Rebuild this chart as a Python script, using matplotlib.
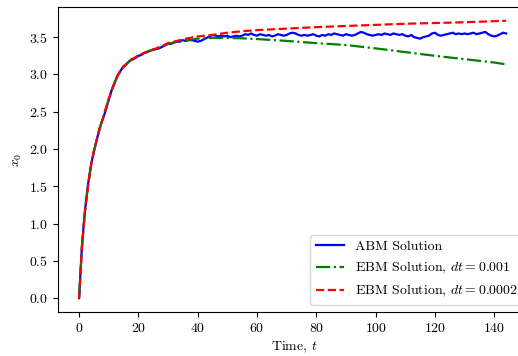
import matplotlib
matplotlib.use("Agg")
import matplotlib.pyplot as plt
import numpy as np

plt.rcParams['font.family'] = 'cmr10'
plt.rcParams['mathtext.fontset'] = 'cm'
plt.rcParams['axes.formatter.use_mathtext'] = True
plt.rcParams['font.size'] = 10

# ABM solution, one value per time unit
t_abm = np.arange(0, 145)
x_abm = [
    0.0, 0.72, 1.18, 1.52, 1.78, 1.97, 2.13, 2.29, 2.40, 2.52,
    2.66, 2.79, 2.89, 2.99, 3.05, 3.11, 3.14, 3.18, 3.20, 3.22,
    3.25, 3.26, 3.29, 3.30, 3.32, 3.33, 3.34, 3.35, 3.37, 3.39,
    3.41, 3.41, 3.43, 3.44, 3.44, 3.46, 3.45, 3.46, 3.46, 3.45,
    3.44, 3.45, 3.47, 3.49, 3.51, 3.53, 3.52, 3.51, 3.52, 3.51,
    3.52, 3.50, 3.51, 3.52, 3.51, 3.52, 3.54, 3.53, 3.55, 3.53,
    3.52, 3.54, 3.53, 3.52, 3.53, 3.51, 3.52, 3.54, 3.53, 3.52,
    3.53, 3.55, 3.56, 3.55, 3.53, 3.52, 3.53, 3.52, 3.53, 3.54,
    3.52, 3.51, 3.53, 3.52, 3.54, 3.53, 3.55, 3.54, 3.53, 3.52,
    3.54, 3.53, 3.52, 3.53, 3.55, 3.57, 3.56, 3.54, 3.53, 3.52,
    3.53, 3.54, 3.53, 3.55, 3.54, 3.53, 3.55, 3.54, 3.53, 3.54,
    3.52, 3.51, 3.53, 3.50, 3.49, 3.48, 3.50, 3.51, 3.52, 3.55,
    3.56, 3.53, 3.52, 3.53, 3.54, 3.55, 3.56, 3.54, 3.55, 3.54,
    3.55, 3.54, 3.55, 3.56, 3.54, 3.55, 3.56, 3.57, 3.54, 3.52,
    3.51, 3.52, 3.54, 3.56, 3.55,
]

# EBM solutions
t_ebm = [0, 1, 2, 3, 4, 5, 6, 7, 8, 9, 10, 11, 12, 13, 14, 15, 16, 17, 18, 19,
         20, 22, 24, 26, 28, 30, 33, 36, 40, 45, 50, 55, 60, 70, 80, 90,
         100, 110, 120, 130, 140, 144]
x_dt1 = [0.0, 0.70, 1.17, 1.50, 1.77, 1.97, 2.13, 2.28, 2.41, 2.54,
         2.67, 2.79, 2.89, 2.98, 3.05, 3.10, 3.14, 3.18, 3.21, 3.23,
         3.25, 3.29, 3.32, 3.35, 3.38, 3.41, 3.44, 3.46, 3.48, 3.49,
         3.49, 3.485, 3.475, 3.45, 3.42, 3.395, 3.35, 3.30, 3.25, 3.205,
         3.16, 3.135]
x_dt2 = [0.0, 0.70, 1.17, 1.50, 1.77, 1.97, 2.13, 2.28, 2.41, 2.54,
         2.67, 2.79, 2.89, 2.98, 3.05, 3.10, 3.14, 3.18, 3.21, 3.23,
         3.25, 3.29, 3.32, 3.35, 3.38, 3.42, 3.45, 3.48, 3.51, 3.53,
         3.56, 3.58, 3.595, 3.615, 3.635, 3.65, 3.665, 3.68, 3.69, 3.70,
         3.715, 3.72]

fig = plt.figure(figsize=(5.18, 3.56), dpi=100)
ax = fig.add_axes([0.112, 0.1236, 0.912, 0.857])

ax.plot(t_abm, x_abm, color='blue', lw=1.6, label='ABM Solution')
ax.plot(t_ebm, x_dt1, color='green', lw=1.6, ls='-.', label='EBM Solution, $dt = 0.001$')
ax.plot(t_ebm, x_dt2, color='red', lw=1.6, ls='--', label='EBM Solution, $dt = 0.0002$')

ax.set_xlim(-7.1, 152.2)
ax.set_ylim(-0.186, 3.906)
ax.set_xticks([0, 20, 40, 60, 80, 100, 120, 140])
ax.set_yticks([0.0, 0.5, 1.0, 1.5, 2.0, 2.5, 3.0, 3.5])
ax.set_xlabel('Time, $t$')
ax.set_ylabel('$x_0$')
ax.legend(loc='lower right')

fig.savefig('out.png', dpi=100)
